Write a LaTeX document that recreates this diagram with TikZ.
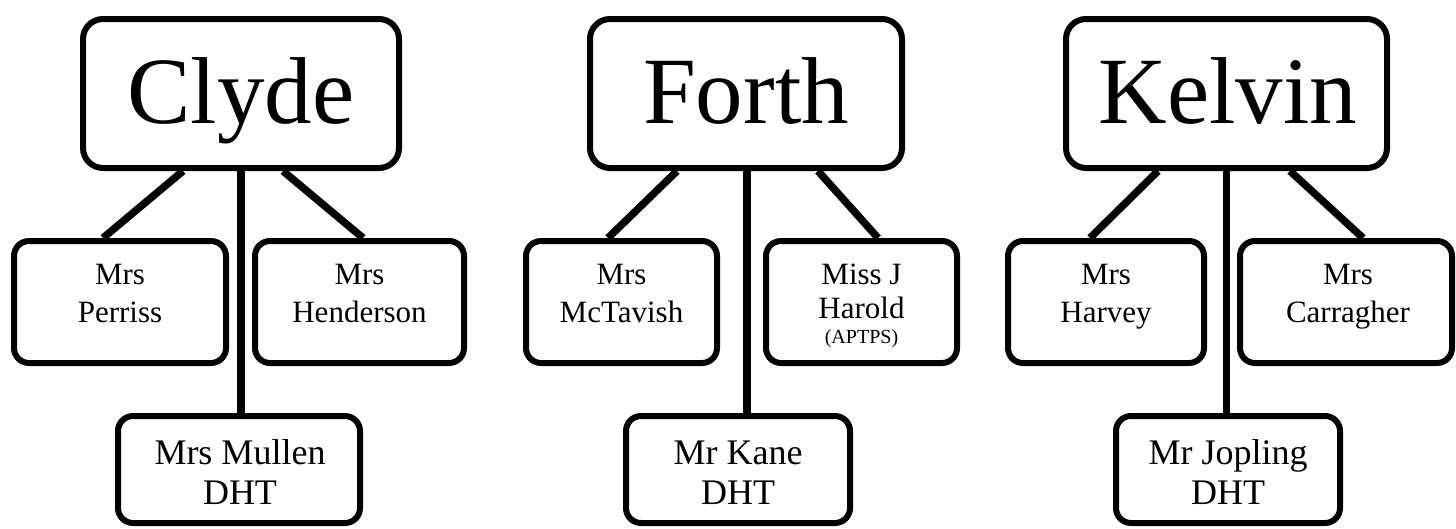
\documentclass[tikz,border=0pt]{standalone}
\usepackage{fontspec}
\setmainfont{Liberation Serif}
\begin{document}
\begin{tikzpicture}[x=1pt,y=-1pt,
  topbox/.style={draw,line width=6pt,rounded corners=20pt,minimum height=149pt,inner sep=0pt},
  kidbox/.style={draw,line width=6pt,rounded corners=15pt,minimum height=122pt,inner sep=0pt},
  dhtbox/.style={draw,line width=6pt,rounded corners=15pt,minimum height=107pt,inner sep=0pt},
  link/.style={line width=7.5pt},
  bigtxt/.style={font=\fontsize{95}{95}\selectfont,anchor=base,inner sep=0pt},
  kidtxt/.style={font=\fontsize{31}{31}\selectfont,anchor=base,inner sep=0pt},
  dhttxt/.style={font=\fontsize{36}{36}\selectfont,anchor=base,inner sep=0pt},
  smalltxt/.style={font=\fontsize{20}{20}\selectfont,anchor=base,inner sep=0pt}]
\useasboundingbox (0,0) rectangle (1456,528);

% Clyde
\node[topbox,minimum width=316pt] (clyde) at (241,93.5) {};
\node[kidbox,minimum width=212pt] (perriss) at (120,302) {};
\node[kidbox,minimum width=209pt] (henderson) at (359.5,302) {};
\node[dhtbox,minimum width=242pt] (mullen) at (239,469.5) {};
\draw[link] ([xshift=-58pt]clyde.south) -- ([xshift=-17pt]perriss.north);
\draw[link] ([xshift=42pt]clyde.south) -- ([xshift=3.5pt]henderson.north);
\draw[link] (clyde.south) -- (clyde.south |- mullen.north);
\node[bigtxt] (clydet) at (241,123) {Clyde};
\node[kidtxt] (perrissa) at (120,284) {Mrs};
\node[kidtxt] (perrissb) at (120,322) {Perriss};
\node[kidtxt] (hendersona) at (359.5,284) {Mrs};
\node[kidtxt] (hendersonb) at (359.5,322) {Henderson};
\node[dhttxt] (mullena) at (240,464) {Mrs Mullen};
\node[dhttxt] (mullenb) at (240,504) {DHT};

% Forth
\node[topbox,minimum width=312pt] (forth) at (746,93.5) {};
\node[kidbox,minimum width=191pt] (mctavish) at (621.5,302) {};
\node[kidbox,minimum width=191pt] (harold) at (861.5,302) {};
\node[dhtbox,minimum width=224pt] (kane) at (738,469.5) {};
\draw[link] ([xshift=-69pt]forth.south) -- ([xshift=-13.5pt]mctavish.north);
\draw[link] ([xshift=72pt]forth.south) -- ([xshift=16.5pt]harold.north);
\draw[link] ([xshift=1pt]forth.south) -- ([xshift=1pt]forth.south |- kane.north);
\node[bigtxt] (fortht) at (746,123) {Forth};
\node[kidtxt] (mctavisha) at (621.5,284) {Mrs};
\node[kidtxt] (mctavishb) at (621.5,322) {McTavish};
\node[kidtxt] (harolda) at (861.5,284) {Miss J};
\node[kidtxt] (haroldb) at (861.5,318) {Harold};
\node[smalltxt] (haroldc) at (861.5,343) {(APTPS)};
\node[dhttxt] (kanea) at (738,464) {Mr Kane};
\node[dhttxt] (kaneb) at (738,504) {DHT};

% Kelvin
\node[topbox,minimum width=321pt] (kelvin) at (1226.5,93.5) {};
\node[kidbox,minimum width=196pt] (harvey) at (1106,302) {};
\node[kidbox,minimum width=212pt] (carragher) at (1346,302) {};
\node[dhtbox,minimum width=224pt] (jopling) at (1228,469.5) {};
\draw[link] ([xshift=-68.5pt]kelvin.south) -- ([xshift=-16pt]harvey.north);
\draw[link] ([xshift=63.5pt]kelvin.south) -- ([xshift=17pt]carragher.north);
\draw[link] (kelvin.south) -- (kelvin.south |- jopling.north);
\node[bigtxt] (kelvint) at (1228,123) {Kelvin};
\node[kidtxt] (harveya) at (1106,284) {Mrs};
\node[kidtxt] (harveyb) at (1106,322) {Harvey};
\node[kidtxt] (carraghera) at (1348,284) {Mrs};
\node[kidtxt] (carragherb) at (1348,322) {Carragher};
\node[dhttxt] (joplinga) at (1228,464) {Mr Jopling};
\node[dhttxt] (joplingb) at (1228,504) {DHT};
\end{tikzpicture}
\end{document}
